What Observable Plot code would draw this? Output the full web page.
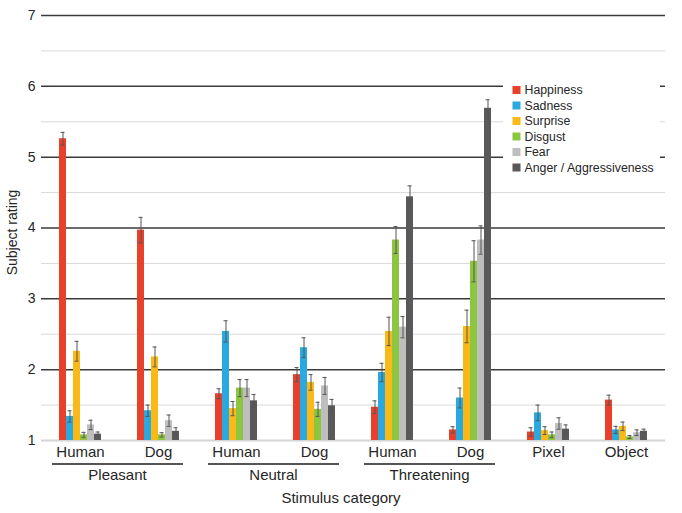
<!DOCTYPE html>
<html>
<head>
<meta charset="utf-8">
<script src="https://cdn.jsdelivr.net/npm/d3@7"></script>
<script src="https://cdn.jsdelivr.net/npm/@observablehq/plot@0.6"></script>
<style>
  html, body { margin: 0; padding: 0; background: #fff; }
  #chart { width: 682px; height: 513px; }
</style>
</head>
<body>
<div id="chart"></div>
<script>
// ---- Data ----
const groups   = ["Pleasant", "Pleasant", "Neutral", "Neutral", "Threatening", "Threatening", "", ""];
const stimuli  = ["Human", "Dog", "Human", "Dog", "Human", "Dog", "Pixel", "Object"];
const emotions = ["Happiness", "Sadness", "Surprise", "Disgust", "Fear", "Anger / Aggressiveness"];
const colors   = ["#E8402A", "#29A9E0", "#FBB917", "#8CC540", "#BEBEBE", "#595959"];

const happiness = [5.26, 3.97, 1.66, 1.93, 1.47, 1.15, 1.12, 1.57];
const sadness   = [1.34, 1.42, 2.54, 2.31, 1.96, 1.60, 1.39, 1.15];
const surprise  = [2.26, 2.18, 1.45, 1.82, 2.54, 2.61, 1.14, 1.20];
const disgust   = [1.08, 1.08, 1.74, 1.44, 3.83, 3.53, 1.08, 1.05];
const fear      = [1.22, 1.28, 1.74, 1.77, 2.60, 3.83, 1.24, 1.11];
const anger     = [1.09, 1.13, 1.56, 1.49, 4.44, 5.69, 1.16, 1.13];

const happinessErr = [0.09, 0.18, 0.07, 0.10, 0.09, 0.045, 0.06, 0.07];
const sadnessErr   = [0.08, 0.08, 0.15, 0.14, 0.13, 0.14, 0.11, 0.05];
const surpriseErr  = [0.14, 0.14, 0.10, 0.11, 0.20, 0.23, 0.055, 0.06];
const disgustErr   = [0.035, 0.03, 0.12, 0.10, 0.19, 0.29, 0.04, 0.02];
const fearErr      = [0.066, 0.08, 0.12, 0.12, 0.15, 0.20, 0.08, 0.04];
const angerErr     = [0.03, 0.05, 0.09, 0.09, 0.155, 0.12, 0.06, 0.03];

const yTicks     = [1, 2, 3, 4, 5, 6, 7];
const yHalfTicks = [1.5, 2.5, 3.5, 4.5, 5.5, 6.5];
const groupNames = ["Pleasant", "Neutral", "Threatening"];
const yTitle = "Subject rating";
const xTitle = "Stimulus category";

// ---- Build table ----
const means = [happiness, sadness, surprise, disgust, fear, anger];
const errs  = [happinessErr, sadnessErr, surpriseErr, disgustErr, fearErr, angerErr];
const keys = stimuli.map((s, i) => `${groups[i]}|${s}`);
const rows = [];
keys.forEach((k, i) => {
  emotions.forEach((e, j) => {
    rows.push({cat: k, emotion: e, value: means[j][i], err: errs[j][i]});
  });
});

const font = "'Liberation Sans', Arial, Helvetica, sans-serif";
const textColor = "#262626";

const plot = Plot.plot({
  width: 682,
  height: 513,
  marginTop: 15,
  marginBottom: 73,
  marginLeft: 40,
  marginRight: 16,
  style: {fontFamily: font, fontSize: "14px", color: textColor, background: "#fff"},
  fx: {domain: keys, padding: 0, label: null},
  x: {domain: emotions, paddingInner: 0, paddingOuter: 1.9, axis: null},
  y: {domain: [1, 7], label: null},
  color: {domain: emotions, range: colors},
  marks: [
    Plot.ruleY(yHalfTicks, {stroke: "#d9d9d9", strokeWidth: 1}),
    Plot.ruleY(yTicks.filter(t => t > 1), {stroke: "#3a3a3a", strokeWidth: 1.5}),
    Plot.ruleY([yTicks[0]], {stroke: "#d4d4d4", strokeWidth: 2}),
    Plot.barY(rows, {fx: "cat", x: "emotion", y1: yTicks[0], y2: "value", fill: "emotion"}),
    Plot.ruleX(rows, {fx: "cat", x: "emotion", y1: d => d.value - d.err, y2: d => d.value + d.err, stroke: "#555", strokeWidth: 1}),
    Plot.tickY(rows, {fx: "cat", x: "emotion", y: d => d.value - d.err, stroke: "#555", strokeWidth: 1, insetLeft: 1.5, insetRight: 1.5}),
    Plot.tickY(rows, {fx: "cat", x: "emotion", y: d => d.value + d.err, stroke: "#555", strokeWidth: 1, insetLeft: 1.5, insetRight: 1.5}),
    Plot.axisY({ticks: yTicks, tickSize: 0, tickPadding: 6, label: null, fontSize: 14, tickFormat: d3.format("d")}),
    Plot.axisFx({anchor: "bottom", tickSize: 0, tickPadding: 6, label: null, fontSize: 15, tickFormat: d => d.split("|")[1]})
  ]
});

document.getElementById("chart").appendChild(plot);

// ---- Extra annotation: group brackets, titles, legend ----
const svg = d3.select(plot);
const fx = plot.scale("fx");
const y = plot.scale("y");
const bw = fx.bandwidth;
const baseY = y.apply(yTicks[0]);

groupNames.forEach(g => {
  const ks = keys.filter(k => k.startsWith(g + "|"));
  const x0 = fx.apply(ks[0]) + 11;
  const x1 = fx.apply(ks[ks.length - 1]) + bw - 14;
  svg.append("line")
    .attr("x1", x0).attr("x2", x1)
    .attr("y1", baseY + 24).attr("y2", baseY + 24)
    .attr("stroke", "#555").attr("stroke-width", 2);
  svg.append("text")
    .attr("x", (x0 + x1) / 2).attr("y", baseY + 40)
    .attr("text-anchor", "middle")
    .attr("font-family", font).attr("font-size", 15).attr("fill", textColor)
    .text(g);
});

svg.append("text")
  .attr("x", 341).attr("y", baseY + 63)
  .attr("text-anchor", "middle")
  .attr("font-family", font).attr("font-size", 15).attr("fill", textColor)
  .text(xTitle);

svg.append("text")
  .attr("transform", `translate(17, ${(y.apply(7) + baseY) / 2 + 5}) rotate(-90)`)
  .attr("text-anchor", "middle")
  .attr("font-family", font).attr("font-size", 14).attr("fill", textColor)
  .text(yTitle);

// legend
const lg = svg.append("g").attr("transform", "translate(503, 78)");
lg.append("rect").attr("x", 0).attr("y", 0).attr("width", 157).attr("height", 99).attr("fill", "#fff");
emotions.forEach((e, i) => {
  const cy = 12 + i * 15.5;
  lg.append("rect").attr("x", 9.5).attr("y", cy - 4).attr("width", 8).attr("height", 8).attr("fill", colors[i]);
  lg.append("text")
    .attr("x", 21.5).attr("y", cy + 4.3)
    .attr("text-anchor", "start")
    .attr("font-family", font).attr("font-size", 12.3).attr("fill", textColor)
    .text(e);
});
</script>
</body>
</html>
